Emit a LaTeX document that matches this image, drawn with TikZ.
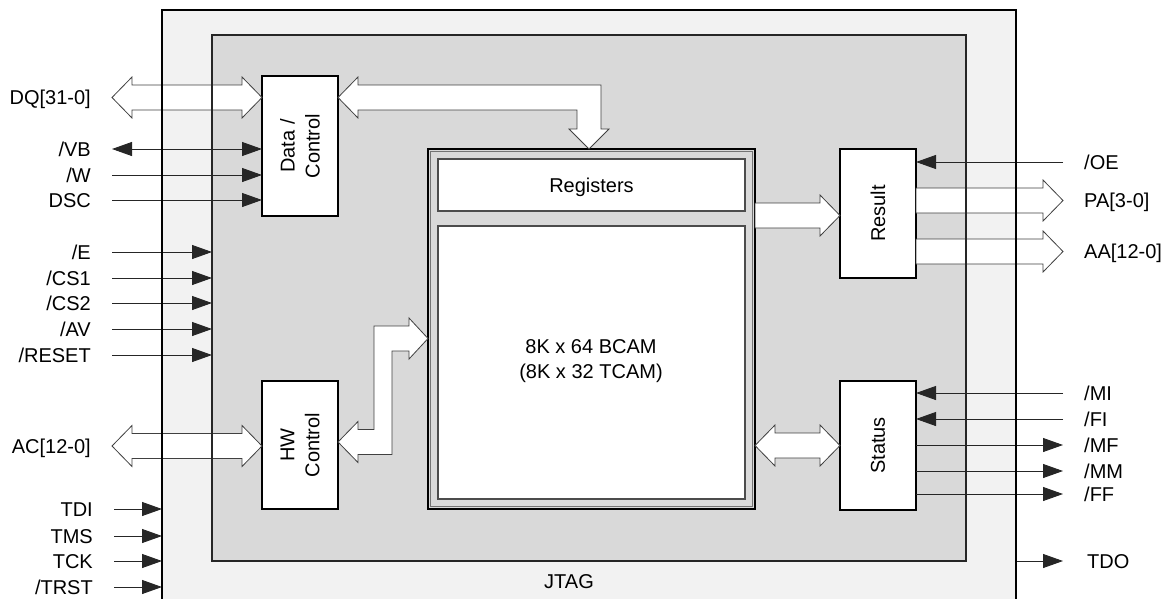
\documentclass[tikz,border=0pt]{standalone}
\usepackage{fontspec}
\setmainfont{Liberation Sans}
\usetikzlibrary{arrows.meta,calc}
\definecolor{chipfill}{HTML}{F2F2F2}
\definecolor{corefill}{HTML}{D9D9D9}
\newcommand{\dblarrow}[2]{%
  \draw[fat] let \p1=(#1), \p2=(#2) in
    (\p1) -- (\x1+20pt,\y1+20.5pt) -- (\x1+20pt,\y1+12.5pt) -- (\x2-20pt,\y1+12.5pt)
    -- (\x2-20pt,\y1+20.5pt) -- (\x2,\y1) -- (\x2-20pt,\y1-20.5pt) -- (\x2-20pt,\y1-12.5pt)
    -- (\x1+20pt,\y1-12.5pt) -- (\x1+20pt,\y1-20.5pt) -- cycle;}
\newcommand{\rfatarrow}[2]{%
  \draw[fat] let \p1=(#1), \p2=(#2) in
    (\x1,\y1+12.5pt) -- (\x2-20pt,\y1+12.5pt) -- (\x2-20pt,\y1+20.5pt) -- (\x2,\y1)
    -- (\x2-20pt,\y1-20.5pt) -- (\x2-20pt,\y1-12.5pt) -- (\x1,\y1-12.5pt) -- cycle;}
\begin{document}
\begin{tikzpicture}[x=1pt,y=-1pt,
  font=\fontsize{20}{25}\selectfont,
  area/.style={inner sep=0pt, outer sep=0pt, anchor=north west, draw=none},
  box/.style={draw=black, line width=1.6pt, fill=white, inner sep=0pt, outer sep=0pt, anchor=north west},
  subbox/.style={draw=black!70, line width=1.2pt, fill=white, inner sep=0pt, outer sep=0pt, anchor=north west},
  sig/.style={line width=0.9pt, draw=black!85, -{Triangle[length=20pt,width=14pt]}},
  sigboth/.style={line width=0.9pt, draw=black!85, {Triangle[length=20pt,width=14pt]}-{Triangle[length=20pt,width=14pt]}},
  fat/.style={draw=black!75, line width=0.8pt, fill=white, line join=miter},
  lbl/.style={inner sep=0pt},
  vlbl/.style={inner sep=0pt, rotate=90, align=center}]
\useasboundingbox (0,0) rectangle (1166,598);

% chip and core areas
\node[area, fill=chipfill, minimum width=854pt, minimum height=600pt] (chip) at (162,10) {};
\node[area, fill=corefill, minimum width=754pt, minimum height=526pt] (core) at (212,35) {};

% blocks
\node[box, minimum width=76pt, minimum height=140pt] (dc) at (262,76) {};
\node[vlbl] at (dc.center) {Data /\\Control};
\node[box, minimum width=76pt, minimum height=128pt] (hw) at (262,381) {};
\node[vlbl] at (hw.center) {HW\\Control};
\node[box, minimum width=76pt, minimum height=129pt] (res) at (840,149) {};
\node[vlbl] at (res.center) {Result};
\node[box, minimum width=76pt, minimum height=129pt] (stat) at (840,381) {};
\node[vlbl] at (stat.center) {Status};

\node[area, draw=black, line width=2pt, fill=corefill, minimum width=327pt, minimum height=360pt] (frame) at (428,149) {};
\draw[black!55, line width=1pt] ($(frame.north west)+(2.8,2.8)$) rectangle ($(frame.south east)+(-2.8,-2.8)$);
\node[subbox, minimum width=307pt, minimum height=52pt] (reg) at (438,159) {};
\node[lbl, anchor=base] at (591.5,192) {Registers};
\node[subbox, minimum width=307pt, minimum height=273pt] (cam) at (438,226) {};
\node[lbl, align=center, anchor=center] (camtxt) at (591,361) {8K x 64 BCAM\\(8K x 32 TCAM)};

% left labels
\node[lbl, anchor=base east] (lDQ) at (91,104.5) {DQ[31-0]};
\node[lbl, anchor=base east] (lVB) at (91,156) {/VB};
\node[lbl, anchor=base east] (lW) at (91,182) {/W};
\node[lbl, anchor=base east] (lDSC) at (91,207) {DSC};
\node[lbl, anchor=base east] (lE) at (91,259) {/E};
\node[lbl, anchor=base east] (lCS1) at (91,285) {/CS1};
\node[lbl, anchor=base east] (lCS2) at (91,310) {/CS2};
\node[lbl, anchor=base east] (lAV) at (91,336) {/AV};
\node[lbl, anchor=base east] (lRST) at (91,362) {/RESET};
\node[lbl, anchor=base east] (lAC) at (91,453) {AC[12-0]};
\node[lbl, anchor=base east] (lTDI) at (93,516) {TDI};
\node[lbl, anchor=base east] (lTMS) at (93,543) {TMS};
\node[lbl, anchor=base east] (lTCK) at (93,568) {TCK};
\node[lbl, anchor=base east] (lTRST) at (93,594) {/TRST};

% right labels
\node[lbl, anchor=base west] (lOE) at (1084,169) {/OE};
\node[lbl, anchor=base west] (lPA) at (1084,207.5) {PA[3-0]};
\node[lbl, anchor=base west] (lAA) at (1084,258.5) {AA[12-0]};
\node[lbl, anchor=base west] (lMI) at (1084,400) {/MI};
\node[lbl, anchor=base west] (lFI) at (1084,426) {/FI};
\node[lbl, anchor=base west] (lMF) at (1084,452) {/MF};
\node[lbl, anchor=base west] (lMM) at (1084,478) {/MM};
\node[lbl, anchor=base west] (lFF) at (1084,501) {/FF};
\node[lbl, anchor=base west] (lTDO) at (1087,568) {TDO};
\node[lbl, anchor=base] (jtag) at (569,588) {JTAG};

% signal start points
\coordinate (sDQ) at (112,97.5);
\coordinate (sVB) at (112,149);
\coordinate (sW) at (112,175);
\coordinate (sDSC) at (112,200);
\coordinate (sE) at (112,252);
\coordinate (sCS1) at (112,278);
\coordinate (sCS2) at (112,303);
\coordinate (sAV) at (112,329);
\coordinate (sRST) at (112,355);
\coordinate (sAC) at (112,446);
\coordinate (sTDI) at (114,509);
\coordinate (sTMS) at (114,536);
\coordinate (sTCK) at (114,561);
\coordinate (sTRST) at (114,587);
\coordinate (sOE) at (1063,162);
\coordinate (sPA) at (1063,200.5);
\coordinate (sAA) at (1063,251.5);
\coordinate (sMI) at (1063,393);
\coordinate (sFI) at (1063,419);
\coordinate (sMF) at (1063,445);
\coordinate (sMM) at (1063,471);
\coordinate (sFF) at (1063,494);
\coordinate (sTDO) at (1063,561);
\coordinate (hwT) at (338,442);
\coordinate (camT) at (428,338.5);
\coordinate (regT) at (589,149);

% fat arrows
\dblarrow{sDQ}{dc.west |- sDQ}
\dblarrow{sAC}{hw.west |- sAC}
\dblarrow{frame.east |- stat.center}{stat.west}
\rfatarrow{frame.east |- 0,215.5}{res.west |- 0,215.5}
\rfatarrow{res.east |- sPA}{sPA}
\rfatarrow{res.east |- sAA}{sAA}
% Data/Control <-> Registers
\draw[fat] let \p1=(dc.east |- sDQ), \p2=(regT) in
  (\p1) -- (\x1+20pt,\y1+20.5pt) -- (\x1+20pt,\y1+12.5pt) -- (\x2+12pt,\y1+12.5pt)
  -- (\x2+12pt,\y2+20pt) -- (\x2+20pt,\y2+20pt) -- (\p2) -- (\x2-20pt,\y2+20pt)
  -- (\x2-12pt,\y2+20pt) -- (\x2-12pt,\y1-12.5pt) -- (\x1+20pt,\y1-12.5pt)
  -- (\x1+20pt,\y1-20.5pt) -- cycle;
% HW Control <-> BCAM
\draw[fat] let \p1=(hwT), \p2=(camT) in
  (\p1) -- (\x1+20pt,\y1+20.5pt) -- (\x1+20pt,\y1+12.5pt) -- (\x1+36pt,\y1+12.5pt)
  -- (\x1+36pt,\y2+12.5pt) -- (\x2-19pt,\y2+12.5pt) -- (\x2-19pt,\y2+20.5pt) -- (\p2)
  -- (\x2-19pt,\y2-20.5pt) -- (\x2-19pt,\y2-12.5pt) -- (\x1+54pt,\y2-12.5pt)
  -- (\x1+54pt,\y1-12.5pt) -- (\x1+20pt,\y1-12.5pt) -- (\x1+20pt,\y1-20.5pt) -- cycle;

% thin signals
\draw[sigboth] (sVB) -- (dc.west |- sVB);
\draw[sig] (sW) -- (dc.west |- sW);
\draw[sig] (sDSC) -- (dc.west |- sDSC);
\draw[sig] (sE) -- (core.west |- sE);
\draw[sig] (sCS1) -- (core.west |- sCS1);
\draw[sig] (sCS2) -- (core.west |- sCS2);
\draw[sig] (sAV) -- (core.west |- sAV);
\draw[sig] (sRST) -- (core.west |- sRST);
\draw[sig] (sTDI) -- (chip.west |- sTDI);
\draw[sig] (sTMS) -- (chip.west |- sTMS);
\draw[sig] (sTCK) -- (chip.west |- sTCK);
\draw[sig] (sTRST) -- (chip.west |- sTRST);
\draw[sig] (sOE) -- (res.east |- sOE);
\draw[sig] (sMI) -- (stat.east |- sMI);
\draw[sig] (sFI) -- (stat.east |- sFI);
\draw[sig] (stat.east |- sMF) -- (sMF);
\draw[sig] (stat.east |- sMM) -- (sMM);
\draw[sig] (stat.east |- sFF) -- (sFF);
\draw[sig] (chip.east |- sTDO) -- (sTDO);

% borders on top
\draw[black, line width=1.3pt] (chip.south west) |- (chip.north east) -- (chip.south east);
\draw[black!85, line width=1.1pt] (core.south west) rectangle (core.north east);
\end{tikzpicture}
\end{document}
